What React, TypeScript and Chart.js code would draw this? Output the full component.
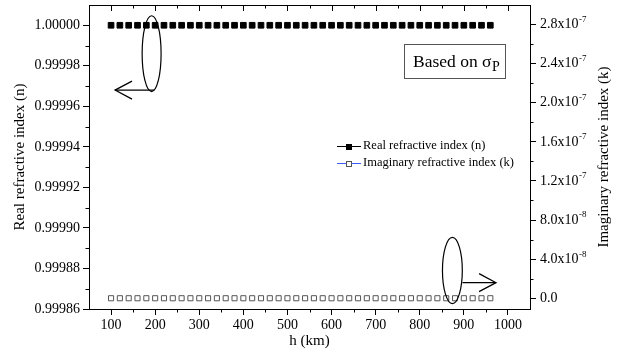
import React, { useEffect, useRef } from 'react';
import { Chart, registerables } from 'chart.js';

Chart.register(...registerables);

// ---- data ----
const heightsKm = [100, 120, 140, 160, 180, 200, 220, 240, 260, 280, 300, 320, 340, 360, 380, 400, 420, 440, 460, 480, 500, 520, 540, 560, 580, 600, 620, 640, 660, 680, 700, 720, 740, 760, 780, 800, 820, 840, 860, 880, 900, 920, 940, 960];
const realIndexN = [1.0, 1.0, 1.0, 1.0, 1.0, 1.0, 1.0, 1.0, 1.0, 1.0, 1.0, 1.0, 1.0, 1.0, 1.0, 1.0, 1.0, 1.0, 1.0, 1.0, 1.0, 1.0, 1.0, 1.0, 1.0, 1.0, 1.0, 1.0, 1.0, 1.0, 1.0, 1.0, 1.0, 1.0, 1.0, 1.0, 1.0, 1.0, 1.0, 1.0, 1.0, 1.0, 1.0, 1.0];
const imagIndexK = [0, 0, 0, 0, 0, 0, 0, 0, 0, 0, 0, 0, 0, 0, 0, 0, 0, 0, 0, 0, 0, 0, 0, 0, 0, 0, 0, 0, 0, 0, 0, 0, 0, 0, 0, 0, 0, 0, 0, 0, 0, 0, 0, 0];

const xMajorTicks = [100, 200, 300, 400, 500, 600, 700, 800, 900, 1000];
const xMinorTicks = [150, 250, 350, 450, 550, 650, 750, 850, 950];
const leftMajorTicks = [0.99986, 0.99988, 0.9999, 0.99992, 0.99994, 0.99996, 0.99998, 1.0];
const leftTickLabels = ['0.99986', '0.99988', '0.99990', '0.99992', '0.99994', '0.99996', '0.99998', '1.00000'];
const leftMinorTicks = [0.99987, 0.99989, 0.99991, 0.99993, 0.99995, 0.99997, 0.99999];
const rightMajorTicks = [0, 4e-8, 8e-8, 1.2e-7, 1.6e-7, 2.0e-7, 2.4e-7, 2.8e-7];
const rightTickMantissa = ['0.0', '4.0x10', '8.0x10', '1.2x10', '1.6x10', '2.0x10', '2.4x10', '2.8x10'];
const rightTickExponent = ['', '-8', '-8', '-7', '-7', '-7', '-7', '-7'];
const rightMinorTicks = [2e-8, 6e-8, 1.0e-7, 1.4e-7, 1.8e-7, 2.2e-7, 2.6e-7];

const seriesNames = ['Real refractive index (n)', 'Imaginary refractive index (k)'];
const xTitle = 'h (km)';
const leftTitle = 'Real refractive index (n)';
const rightTitle = 'Imaginary refractive index (k)';

// annotations in data units (x: km, y: left-axis value)
const ellipseLeft = { cx: 192, cy: 0.999986, rx: 21.5, ry: 0.0000187, arrowFromX: 198, arrowToX: 109, arrowY: 0.999968 };
const ellipseRight = { cx: 874, cy: 0.999879, rx: 22.5, ry: 0.0000163, arrowFromX: 897, arrowToX: 973, arrowY: 0.999873 };

const SERIF = '"Liberation Serif", "Times New Roman", serif';

function line(ctx: CanvasRenderingContext2D, x1: number, y1: number, x2: number, y2: number) {
  ctx.beginPath();
  ctx.moveTo(x1, y1);
  ctx.lineTo(x2, y2);
  ctx.stroke();
}
const al = (v: number) => Math.round(v) + 0.5;

const decorPlugin = {
  id: 'decor',
  afterDraw(chart: any) {
    const { ctx, chartArea: ca, scales } = chart;
    const xs = scales.x, ys = scales.y, y2s = scales.y2;
    ctx.save();
    ctx.strokeStyle = '#000';
    ctx.lineWidth = 1;
    // top frame + inward ticks
    line(ctx, ca.left, al(ca.top), ca.right, al(ca.top));
    xMajorTicks.forEach((v) => { const px = al(xs.getPixelForValue(v)); line(ctx, px, ca.top, px, ca.top + 6); });
    xMinorTicks.forEach((v) => { const px = al(xs.getPixelForValue(v)); line(ctx, px, ca.top, px, ca.top + 3.5); });
    // bottom minor ticks
    xMinorTicks.forEach((v) => { const px = al(xs.getPixelForValue(v)); line(ctx, px, ca.bottom, px, ca.bottom + 3.5); });
    // left minor ticks
    leftMinorTicks.forEach((v) => { const py = al(ys.getPixelForValue(v)); line(ctx, ca.left - 3.5, py, ca.left, py); });
    // right minor ticks
    rightMinorTicks.forEach((v) => { const py = al(y2s.getPixelForValue(v)); line(ctx, ca.right, py, ca.right + 3.5, py); });

    // right tick labels with superscripts
    ctx.fillStyle = '#000';
    ctx.textBaseline = 'middle';
    ctx.textAlign = 'left';
    rightMajorTicks.forEach((v, i) => {
      const py = y2s.getPixelForValue(v);
      ctx.font = `14px ${SERIF}`;
      const m = rightTickMantissa[i];
      const x0 = ca.right + 10;
      ctx.fillText(m, x0, py);
      const w = ctx.measureText(m).width;
      if (rightTickExponent[i]) {
        ctx.font = `9px ${SERIF}`;
        ctx.fillText(rightTickExponent[i], x0 + w + 0.5, py - 5);
      }
    });

    // right axis title (reads bottom to top)
    ctx.save();
    ctx.translate(604, (ca.top + ca.bottom) / 2);
    ctx.rotate(-Math.PI / 2);
    ctx.font = `15px ${SERIF}`;
    ctx.textAlign = 'center';
    ctx.textBaseline = 'middle';
    ctx.fillText(rightTitle, 0, 0);
    ctx.restore();

    // "Based on sigma_P" box
    ctx.strokeStyle = '#555';
    ctx.strokeRect(404.5, 44.5, 101, 34);
    ctx.fillStyle = '#000';
    ctx.textAlign = 'left';
    ctx.textBaseline = 'alphabetic';
    ctx.font = `17.5px ${SERIF}`;
    const label = 'Based on \u03c3';
    ctx.fillText(label, 413, 67);
    const lw = ctx.measureText(label).width;
    ctx.font = `14px ${SERIF}`;
    ctx.fillText('P', 413 + lw + 0.5, 70.5);

    // legend
    const rows = [146, 163];
    rows.forEach((ry, i) => {
      const yy = al(ry);
      ctx.strokeStyle = i === 0 ? '#000' : '#3b5cff';
      ctx.lineWidth = 1;
      line(ctx, 337, yy, 361, yy);
      const s = 6;
      if (i === 0) {
        ctx.fillStyle = '#000';
        ctx.fillRect(Math.round(349 - s / 2), Math.round(yy - s / 2), s, s);
      } else {
        ctx.fillStyle = '#fff';
        ctx.fillRect(Math.round(349 - s / 2), Math.round(yy - s / 2), s, s);
        ctx.strokeStyle = '#555';
        ctx.strokeRect(Math.round(349 - s / 2) + 0.5, Math.round(yy - s / 2) + 0.5, s - 1, s - 1);
      }
      ctx.fillStyle = '#000';
      ctx.font = `12.5px ${SERIF}`;
      ctx.textBaseline = 'middle';
      ctx.fillText(seriesNames[i], 363, ry);
    });

    // ellipses with arrows
    ctx.strokeStyle = '#000';
    ctx.lineWidth = 1.2;
    [ellipseLeft, ellipseRight].forEach((e, idx) => {
      const cx = xs.getPixelForValue(e.cx);
      const cy = ys.getPixelForValue(e.cy);
      const rx = Math.abs(xs.getPixelForValue(e.cx + e.rx) - cx);
      const ryy = Math.abs(ys.getPixelForValue(e.cy + e.ry) - cy);
      ctx.beginPath();
      ctx.ellipse(cx, cy, rx, ryy, 0, 0, Math.PI * 2);
      ctx.stroke();
      const ay = ys.getPixelForValue(e.arrowY);
      const ax1 = xs.getPixelForValue(e.arrowFromX);
      const ax2 = xs.getPixelForValue(e.arrowToX);
      line(ctx, ax1, ay, ax2, ay);
      const dir = idx === 0 ? 1 : -1;
      ctx.beginPath();
      ctx.moveTo(ax2 + dir * 17, ay - 9);
      ctx.lineTo(ax2, ay);
      ctx.lineTo(ax2 + dir * 17, ay + 9);
      ctx.stroke();
    });
    ctx.restore();
  },
};

export default function App() {
  const ref = useRef<HTMLCanvasElement | null>(null);
  useEffect(() => {
    if (!ref.current) return;
    const chart = new Chart(ref.current, {
      type: 'scatter',
      data: {
        datasets: [
          {
            label: seriesNames[0],
            data: heightsKm.map((h, i) => ({ x: h, y: realIndexN[i] })),
            yAxisID: 'y',
            showLine: false,
            pointStyle: 'rect',
            pointRadius: 4,
            backgroundColor: '#000',
            borderColor: '#000',
            borderWidth: 1,
          },
          {
            label: seriesNames[1],
            data: heightsKm.map((h, i) => ({ x: h, y: imagIndexK[i] })),
            yAxisID: 'y2',
            showLine: false,
            pointStyle: 'rect',
            pointRadius: 3.6,
            backgroundColor: '#fff',
            borderColor: '#555',
            borderWidth: 1,
          },
        ],
      },
      options: {
        animation: false,
        responsive: false,
        devicePixelRatio: 1,
        layout: { padding: { top: 5, left: 0, right: 0, bottom: 0 }, autoPadding: false },
        plugins: { legend: { display: false }, tooltip: { enabled: false } },
        scales: {
          x: {
            type: 'linear',
            position: 'bottom',
            min: 50,
            max: 1050,
            afterBuildTicks: (s: any) => { s.ticks = xMajorTicks.map((v) => ({ value: v })); },
            afterFit: (s: any) => { s.height = 45; s.paddingLeft = 0; s.paddingRight = 0; },
            ticks: { color: '#000', font: { family: SERIF, size: 14 }, padding: 2, autoSkip: false, maxRotation: 0, callback: (v: any) => String(v) },
            grid: { display: true, drawOnChartArea: false, drawTicks: true, tickLength: 6, tickColor: '#000', tickWidth: 1 },
            border: { display: true, color: '#000', width: 1 },
            title: { display: true, text: xTitle, color: '#000', font: { family: SERIF, size: 15 }, padding: { top: 0, bottom: 4 } },
          },
          y: {
            type: 'linear',
            position: 'left',
            min: 0.99986,
            max: 1.00001,
            afterBuildTicks: (s: any) => { s.ticks = leftMajorTicks.map((v) => ({ value: v })); },
            afterFit: (s: any) => { s.width = 89; s.paddingTop = 0; s.paddingBottom = 0; },
            ticks: { color: '#000', font: { family: SERIF, size: 14 }, padding: 3, autoSkip: false, callback: (_v: any, i: number) => leftTickLabels[i] },
            grid: { display: true, drawOnChartArea: false, drawTicks: true, tickLength: 6, tickColor: '#000', tickWidth: 1 },
            border: { display: true, color: '#000', width: 1 },
            title: { display: true, text: leftTitle, color: '#000', font: { family: SERIF, size: 15 }, padding: { top: 11, bottom: 0 } },
          },
          y2: {
            type: 'linear',
            position: 'right',
            min: -1.1e-8,
            max: 3.0e-7,
            afterBuildTicks: (s: any) => { s.ticks = rightMajorTicks.map((v) => ({ value: v })); },
            afterFit: (s: any) => { s.width = 87; s.paddingTop = 0; s.paddingBottom = 0; },
            ticks: { display: false },
            grid: { display: true, drawOnChartArea: false, drawTicks: true, tickLength: 6, tickColor: '#000', tickWidth: 1 },
            border: { display: true, color: '#000', width: 1 },
          },
        },
      },
      plugins: [decorPlugin],
    } as any);
    return () => chart.destroy();
  }, []);
  return (
    <div style={{ position: 'absolute', left: 0, top: 0, width: 617, height: 354, background: '#fff' }}>
      <canvas ref={ref} width={617} height={354} style={{ width: 617, height: 354, display: 'block' }} />
    </div>
  );
}
